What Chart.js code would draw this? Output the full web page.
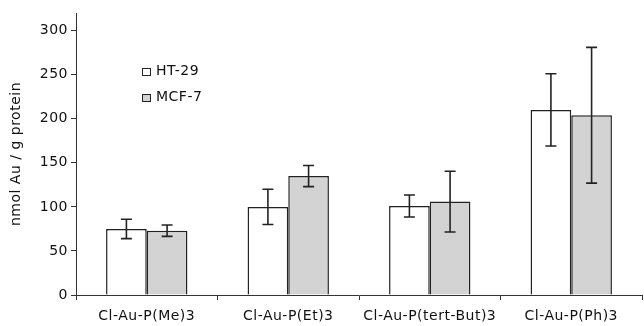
<!DOCTYPE html>
<html>
<head>
<meta charset="utf-8">
<script src="https://cdn.jsdelivr.net/npm/chart.js@4/dist/chart.umd.min.js"></script>
<style>
  html, body { margin: 0; padding: 0; background: #fff; }
  #wrap { width: 644px; height: 326px; }
</style>
</head>
<body>
<div id="wrap"><canvas id="myChart"></canvas></div>
<script>
// values
const categories = ['Cl-Au-P(Me)3', 'Cl-Au-P(Et)3', 'Cl-Au-P(tert-But)3', 'Cl-Au-P(Ph)3'];
const ht29 = [75, 100, 101, 210];
const ht29Err = [11, 20, 12.5, 41];
const mcf7 = [73, 135, 106, 204];
const mcf7Err = [6.5, 12, 34.5, 77];
const yTicks = [0, 50, 100, 150, 200, 250, 300];

const errors = [ht29Err, mcf7Err];

Chart.defaults.font.family = '"DejaVu Sans", Arial, sans-serif';
Chart.defaults.font.size = 14;
Chart.defaults.color = '#111';

// widen the text a little, the original lettering is broad
const spacing = {
  id: 'spacing',
  beforeLayout(chart) { chart.ctx.letterSpacing = '0.5px'; },
  beforeDraw(chart) { chart.ctx.letterSpacing = '0.5px'; }
};

const errorBars = {
  id: 'errorBars',
  afterDatasetsDraw(chart) {
    const ctx = chart.ctx;
    const y = chart.scales.y;
    ctx.save();
    ctx.strokeStyle = '#222';
    ctx.lineWidth = 1.6;
    chart.data.datasets.forEach((ds, i) => {
      const meta = chart.getDatasetMeta(i);
      meta.data.forEach((bar, j) => {
        const v = ds.data[j], e = errors[i][j];
        const top = y.getPixelForValue(v + e);
        const bot = y.getPixelForValue(v - e);
        ctx.beginPath();
        ctx.moveTo(bar.x, top); ctx.lineTo(bar.x, bot);
        ctx.moveTo(bar.x - 5.5, top); ctx.lineTo(bar.x + 5.5, top);
        ctx.moveTo(bar.x - 5.5, bot); ctx.lineTo(bar.x + 5.5, bot);
        ctx.stroke();
      });
    });
    ctx.restore();
  }
};

// legend sits inside the plot
const innerLegend = {
  id: 'innerLegend',
  afterDraw(chart) {
    const ctx = chart.ctx;
    ctx.save();
    ctx.font = '14px "DejaVu Sans", Arial, sans-serif';
    ctx.textBaseline = 'middle';
    chart.data.datasets.forEach((ds, i) => {
      const yy = 72 + i * 26;
      ctx.fillStyle = ds.backgroundColor;
      ctx.fillRect(142, yy - 4, 9, 8);
      ctx.strokeStyle = '#222';
      ctx.lineWidth = 1;
      ctx.strokeRect(142.5, yy - 3.5, 8, 7);
      ctx.fillStyle = '#111';
      ctx.fillText(ds.label, 156, yy - 1);
    });
    ctx.restore();
  }
};

new Chart(document.getElementById('myChart'), {
  type: 'bar',
  data: {
    labels: categories,
    datasets: [{
      label: 'HT-29',
      data: ht29,
      backgroundColor: '#ffffff',
      borderColor: '#222',
      borderWidth: 1.5
    }, {
      label: 'MCF-7',
      data: mcf7,
      backgroundColor: '#d3d3d3',
      borderColor: '#222',
      borderWidth: 1.5
    }]
  },
  options: {
    responsive: true,
    maintainAspectRatio: false,
    animation: false,
    layout: { padding: { top: 13, right: 2, left: 0, bottom: 0 } },
    plugins: { legend: { display: false }, tooltip: { enabled: false } },
    datasets: { bar: { categoryPercentage: 0.575, barPercentage: 1.0 } },
    scales: {
      x: {
        grid: { drawOnChartArea: false, offset: true, tickLength: 5, color: '#333' },
        border: { color: '#333', width: 1 },
        ticks: { padding: 8, maxRotation: 0, autoSkip: false },
        afterFit(scale) { scale.height = 31; }
      },
      y: {
        min: 0,
        max: 320,
        grid: { drawOnChartArea: false, tickLength: 5, color: '#333' },
        border: { color: '#333', width: 1 },
        ticks: { stepSize: 50, padding: 3 },
        afterBuildTicks(scale) { scale.ticks = yTicks.map(v => ({ value: v })); },
        title: { display: true, text: 'nmol Au / g protein', padding: { top: 8, bottom: 0 } },
        afterFit(scale) { scale.width = 76; }
      }
    }
  },
  plugins: [spacing, errorBars, innerLegend]
});
</script>
</body>
</html>
